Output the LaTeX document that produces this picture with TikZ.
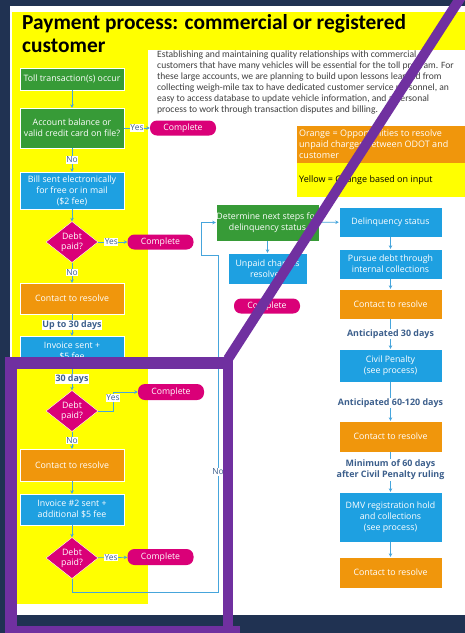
\documentclass[tikz,border=0pt]{standalone}
\usepackage{fontspec}
\setmainfont{Open Sans}
\newfontfamily\calib{Carlito}
\usetikzlibrary{shapes.geometric,arrows.meta}
\definecolor{navy}{RGB}{32,50,82}
\definecolor{cyel}{RGB}{255,255,0}
\definecolor{cgreen}{RGB}{55,155,55}
\definecolor{cblue}{RGB}{30,160,225}
\definecolor{corange}{RGB}{240,150,12}
\definecolor{cpink}{RGB}{218,0,120}
\definecolor{cline}{RGB}{70,165,220}
\definecolor{clabel}{RGB}{60,95,140}
\definecolor{cpara}{RGB}{64,64,64}
\definecolor{purp}{RGB}{112,48,160}
\begin{document}
\begin{tikzpicture}[x=1pt,y=-1pt,
  box/.style={draw=white, line width=0.4pt, minimum width=104pt, inner sep=0pt, align=center, text=white, font=\fontsize{8.8}{11}\selectfont},
  gbox/.style={box, fill=cgreen},
  bbox/.style={box, fill=cblue},
  obox/.style={box, fill=corange},
  pill/.style={fill=cpink, rounded corners=7pt, minimum width=66pt, minimum height=15pt, inner sep=0pt, text=white, font=\fontsize{8.7}{10}\selectfont},
  dia/.style={diamond, fill=cpink, draw=white, line width=0.4pt, minimum width=52pt, minimum height=39pt, inner sep=0pt, align=center, text=white, font=\fontsize{8.8}{10.5}\selectfont},
  conn/.style={draw=cline, line width=0.6pt, -{Stealth[length=3.5pt,width=3.5pt]}},
  yn/.style={fill=white, inner sep=0.6pt, text=clabel, font=\fontsize{8.4}{9}\selectfont},
  dl/.style={fill=white, inner sep=0.6pt, text=clabel, align=center, font=\bfseries\fontsize{8.9}{11}\selectfont},
  para/.style={anchor=base west, inner sep=0pt, text=cpara, font=\calib\fontsize{9.6}{10}\selectfont},
  leg/.style={anchor=base west, inner sep=0pt, font=\fontsize{9}{10}\selectfont}
]
\useasboundingbox (0,0) rectangle (465,633);
% background
\fill[navy] (0,0) rectangle (465,633);
\fill[white] (10,6) rectangle (465,615);
\fill[cyel] (12,12) rectangle (465,50);
\fill[cyel] (12,12) rectangle (148,604);
\fill[corange] (297,126) rectangle (465,163);
\fill[cyel] (297,163) rectangle (465,197);
% title
\node[anchor=base west, inner sep=0pt, font=\calib\bfseries\fontsize{21.4}{24}\selectfont] (t1) at (22,29.5) {Payment process: commercial or registered};
\node[anchor=base west, inner sep=0pt, font=\calib\bfseries\fontsize{21.4}{24}\selectfont] (t2) at (22,52) {customer};
% paragraph
\node[para] (p1) at (157,57.5) {Establishing and maintaining quality relationships with commercial};
\node[para] (p2) at (157,68.5) {customers that have many vehicles will be essential for the toll program. For};
\node[para] (p3) at (157,79.5) {these large accounts, we are planning to build upon lessons learned from};
\node[para] (p4) at (157,90.5) {collecting weigh-mile tax to have dedicated customer service personnel, an};
\node[para] (p5) at (157,101.5) {easy to access database to update vehicle information, and a personal};
\node[para] (p6) at (157,112.5) {process to work through transaction disputes and billing.};
% legend
\node[leg, text=white] (l1) at (299,136) {Orange = Opportunities to resolve};
\node[leg, text=white] (l2) at (299,147) {unpaid charges between ODOT and};
\node[leg, text=white] (l3) at (299,158) {customer};
\node[leg, text=black] (l4) at (299,182) {Yellow = Change based on input};
% left column
\node[gbox, minimum height=22pt] (toll) at (72,79) {Toll transaction(s) occur};
\node[gbox, minimum height=40pt] (acct) at (72,128) {Account balance or\\valid credit card on file?};
\node[pill] (c1) at (183,128) {Complete};
\node[bbox, minimum height=37pt] (bill) at (72,190.5) {Bill sent electronically\\for free or in mail\\(\$2 fee)};
\node[dia] (d1) at (72,242) {Debt\\paid?};
\node[pill] (c2) at (160.5,242) {Complete};
\node[obox, minimum height=31pt] (ct1) at (72,298.5) {Contact to resolve};
\node[bbox, minimum height=31pt] (inv1) at (72,351.5) {Invoice sent +\\\$5 fee};
\node[dia] (d2) at (72,411) {Debt\\paid?};
\node[pill, minimum height=16pt] (c3) at (171,392) {Complete};
\node[obox, minimum height=32pt] (ct2) at (72,465) {Contact to resolve};
\node[bbox, minimum height=31pt] (inv2) at (72,509.5) {Invoice \#2 sent +\\additional \$5 fee};
\node[dia] (d3) at (72,558) {Debt\\paid?};
\node[pill, minimum height=16pt] (c4) at (160.5,557) {Complete};
% right part
\node[gbox, minimum width=103pt, minimum height=37pt] (det) at (267.5,222.5) {Determine next steps for\\delinquency status};
\node[bbox, minimum width=79pt, minimum height=31pt] (unp) at (267.5,268.5) {Unpaid charges\\resolved};
\node[pill] (c5) at (267,306) {Complete};
\node[bbox, minimum width=103pt, minimum height=30pt] (del) at (390.5,222) {Delinquency status};
\node[bbox, minimum width=103pt, minimum height=30pt] (pur) at (390.5,264) {Pursue debt through\\internal collections};
\node[obox, minimum width=103pt, minimum height=30pt] (ct3) at (390.5,304) {Contact to resolve};
\node[bbox, minimum width=103pt, minimum height=33pt] (civ) at (390.5,365.5) {Civil Penalty\\(see process)};
\node[obox, minimum width=103pt, minimum height=31pt] (ct4) at (390.5,436.5) {Contact to resolve};
\node[bbox, minimum width=103pt, minimum height=50pt] (dmv) at (390.5,517) {DMV registration hold\\and collections\\(see process)};
\node[obox, minimum width=103pt, minimum height=31pt] (ct5) at (390.5,572.5) {Contact to resolve};
% connectors left
\draw[conn] (toll) -- (acct);
\draw[conn] (acct) -- node[yn] {Yes} (c1);
\draw[conn] (acct) -- node[yn] {No} (bill);
\draw[conn] (bill) -- (d1);
\draw[conn] (d1) -- node[yn, pos=0.45] {Yes} (c2);
\draw[conn] (d1) -- node[yn] {No} (ct1);
\draw[conn] (ct1) -- node[dl] {Up to 30 days} (inv1);
\draw[conn] (inv1) -- node[dl] {30 days} (d2);
\coordinate (y2a) at (113,411);
\coordinate (y2b) at (113,392);
\draw[conn] (d2.east) -- (y2a) -- (y2b) -- (c3.west);
\node[yn] (y2l) at (113,398) {Yes};
\draw[conn] (d2) -- node[yn] {No} (ct2);
\draw[conn] (ct2) -- (inv2);
\draw[conn] (inv2) -- (d3);
\draw[conn] (d3) -- node[yn, pos=0.45] {Yes} (c4);
\coordinate (lp1) at (72,592);
\coordinate (lp2) at (218,592);
\coordinate (lp3) at (218,255);
\coordinate (lp4) at (201,255);
\coordinate (lp5) at (201,222.5);
\draw[conn] (d3.south) -- (lp1) -- (lp2) -- (lp3) -- (lp4) -- (lp5) -- (det.west);
\node[yn] (nol) at (218,472) {No};
% connectors right
\draw[conn] (det) -- (unp);
\draw[conn] (det) -- (del);
\draw[conn] (del) -- (pur);
\draw[conn] (pur) -- (ct3);
\draw[conn] (ct3) -- node[dl] {Anticipated 30 days} (civ);
\draw[conn] (civ) -- node[dl, pos=0.55] {Anticipated 60-120 days} (ct4);
\draw[conn] (ct4) -- node[dl, pos=0.45] {Minimum of 60 days\\after Civil Penalty ruling} (dmv);
\draw[conn] (dmv) -- (ct5);
% purple overlay
\fill[purp] (5,357) rectangle (233,369);
\fill[purp] (5,357) rectangle (17,633);
\fill[purp] (223,357) rectangle (233,633);
\fill[purp] (5,626) rectangle (240,633);
\draw[purp, line width=10pt] (228,359) -- (461,-3);
\end{tikzpicture}
\end{document}
